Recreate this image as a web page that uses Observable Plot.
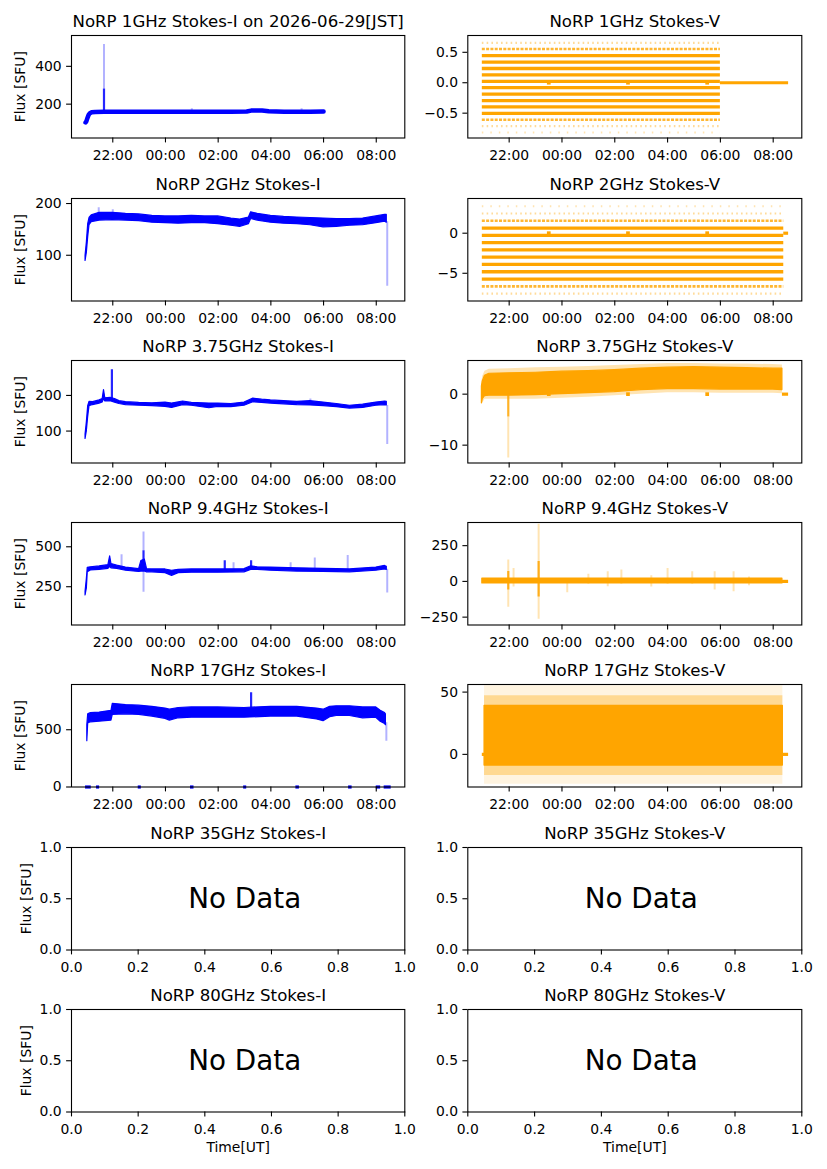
<!DOCTYPE html>
<html><head><meta charset="utf-8">
<script src="https://cdn.jsdelivr.net/npm/d3@7"></script>
<script src="https://cdn.jsdelivr.net/npm/@observablehq/plot@0.6"></script>
<style>
html,body{margin:0;padding:0;background:#fff;}
#root{position:relative;width:827px;height:1169px;overflow:hidden;background:#fff;}
</style></head>
<body><div id="root"></div>
<script>
// ---------------- data ----------------
const timeTicks = ["22:00", "00:00", "02:00", "04:00", "06:00", "08:00"];
const xStart = "20:26", xEnd = "09:05";
const unitXTicks = [0, 0.2, 0.4, 0.6, 0.8, 1.0];
const unitYTicks = [0, 0.5, 1.0];

// 1 GHz Stokes-I
const i1Times = ["20:58","21:00","21:02","21:05","21:08","21:12","21:20","21:40","22:30","23:30","00:30","01:30","02:30","03:05","03:15","03:40","03:55","04:30","05:30","06:00"];
const i1Flux  = [103,110,125,143,152,157,159,160,160,160,160,160,160,161,166,166,162,160,160,161];
const i1SpikeCore  = [["21:40", 160, 280]];
const i1SpikeFaint = [["21:40", 280, 515], ["01:00", 160, 176], ["05:10", 160, 176]];

// 1 GHz Stokes-V (quantised levels)
const v1Levels  = [0.654, 0.555, 0.445, 0.339, 0.234, 0.129, 0.023, -0.082, -0.187, -0.293, -0.398, -0.503, -0.608, -0.714, -0.819];
const v1Density = ["sparse","dotted","solid","solid","solid","solid","solid","solid","solid","solid","solid","solid","dotted","sparse","rare"];
const v1Span = ["20:59", "06:00"];
const v1ZeroSpans = [["06:00", "08:35"]];
const v1ZeroMarks = ["23:30", "02:30", "05:30"];

// 2 GHz Stokes-I
const i2Times = ["20:58","21:01","21:04","21:07","21:12","21:30","22:00","22:30","23:00","23:30","00:00","00:30","01:00","01:30","02:00","02:30","02:50","03:10","03:15","03:30","04:00","04:30","05:00","05:30","06:00","06:30","07:00","07:30","08:00","08:20","08:24"];
const i2Lo = [89,105,135,158,164,167,168,167,166,163,162,161,162,162,160,157,155,160,170,167,163,161,160,158,154,155,157,158,162,165,163];
const i2Hi = [99,125,160,172,177,182,182,180,179,176,175,175,176,175,175,171,169,173,183,180,176,174,173,172,171,170,170,171,175,178,178];
const i2SpikeCore  = [];
const i2SpikeFaint = [["08:25", 40, 165], ["21:28", 180, 192], ["22:00", 180, 188]];

// 2 GHz Stokes-V (quantised levels)
const v2Levels  = [3.37, 2.46, 1.55, 0.64, -0.27, -1.18, -2.09, -2.99, -3.90, -4.81, -5.72, -6.63, -7.54];
const v2Density = ["rare","sparse","dotted","solid","solid","solid","solid","solid","solid","solid","solid","dotted","sparse"];
const v2Span = ["20:59", "08:24"];
const v2ZeroSpans = [["08:24", "08:35"]];
const v2ZeroMarks = ["23:30", "02:30", "05:30"];

// 3.75 GHz Stokes-I
const i3Times = ["20:58","21:01","21:04","21:07","21:15","21:30","21:37","21:40","21:43","21:55","22:05","22:15","22:30","23:00","23:30","00:00","00:15","00:40","01:00","01:40","02:00","02:30","03:00","03:20","03:40","04:00","04:30","05:00","05:30","06:00","06:30","07:00","07:30","08:00","08:20","08:24"];
const i3Lo = [78,100,140,170,173,177,180,190,183,184,180,176,173,171,170,168,165,173,171,164,168,167,171,181,179,177,175,173,172,170,167,163,165,171,173,172];
const i3Hi = [90,125,170,182,181,186,190,215,192,193,190,184,181,179,178,180,177,183,179,177,177,176,180,191,188,186,184,182,184,180,176,171,174,180,183,182];
const i3SpikeCore  = [["21:58", 185, 272]];
const i3SpikeFaint = [["08:25", 62, 172], ["05:30", 180, 190]];

// 3.75 GHz Stokes-V
const v3Times   = ["20:58","21:00","21:05","21:15","22:00","23:00","00:00","01:00","02:00","03:00","04:00","05:00","06:00","07:00","08:00","08:21"];
const v3Lo      = [-1.8,-1.0,-0.4,-0.3,-0.3,-0.2,0.0,0.2,0.4,0.8,1.0,1.0,0.9,0.9,0.9,0.8];
const v3Hi      = [1.5,2.5,3.6,4.0,4.1,4.2,4.4,4.5,4.7,5.0,5.2,5.3,5.2,5.1,5.0,5.0];
const v3OuterLo = [-2.0,-1.8,-1.0,-1.0,-1.0,-1.0,-0.8,-0.6,-0.3,0.0,0.3,0.3,0.2,0.2,0.2,0.1];
const v3OuterHi = [2.5,3.5,4.5,4.9,5.0,5.2,5.3,5.4,5.6,5.8,6.0,6.0,5.9,5.9,5.8,5.7];
const v3SpikeCore  = [["21:58", -4.5, 0]];
const v3SpikeFaint = [["21:58", -12.5, -4.5]];
const v3ZeroSpans = [["08:21", "08:35"]];
const v3ZeroMarks = ["23:30", "02:30", "05:30"];

// 9.4 GHz Stokes-I
const i4Times = ["20:58","21:01","21:03","21:10","21:30","21:50","21:54","21:57","22:10","22:30","23:00","23:05","23:13","23:18","23:30","00:00","00:15","00:30","01:00","02:00","03:00","03:15","03:30","04:00","05:00","06:00","07:00","08:00","08:20","08:24"];
const i4Lo = [195,240,340,352,356,362,375,365,362,350,342,345,345,340,340,335,318,335,338,338,340,355,355,350,345,343,340,350,358,355];
const i4Hi = [218,300,368,372,377,385,440,392,382,370,360,410,420,360,358,358,350,356,358,358,360,378,372,370,365,362,358,370,380,375];
const i4SpikeCore  = [["23:10", 345, 475], ["02:15", 350, 412], ["03:15", 370, 412]];
const i4SpikeFaint = [["23:10", 215, 345], ["23:10", 475, 592], ["08:25", 210, 360], ["22:20", 370, 450], ["05:40", 360, 430], ["06:55", 355, 445], ["04:45", 360, 400], ["02:35", 355, 400]];

// 9.4 GHz Stokes-V
const v4Times = ["20:59", "08:21"];
const v4Lo = [-14, -14];
const v4Hi = [20, 20];
const v4SpikeCore  = [["21:58", -60, 70], ["23:07", -110, 140]];
const v4SpikeFaint = [["21:58",-180,150],["23:07",-265,400],["22:10",-40,90],["00:12",-80,20],["01:00",-20,50],["01:44",-37,67],["02:15",-20,79],["03:23",-40,40],["04:00",-20,91],["04:56",-20,67],["05:47",-60,67],["06:30",-72,67],["07:05",-30,30]];
const v4ZeroSpans = [["08:21", "08:35"]];

// 17 GHz Stokes-I
const i5Times = ["21:02","21:04","21:10","21:30","21:57","22:00","22:30","23:00","23:30","00:00","00:10","00:30","01:00","02:00","03:00","04:00","05:00","05:45","06:00","06:15","06:30","07:00","07:30","08:00","08:10","08:20","08:22"];
const i5Lo = [400,555,565,570,580,630,635,630,615,595,580,600,605,605,605,615,615,590,575,610,620,620,600,605,570,550,540];
const i5Hi = [540,635,645,650,665,727,715,710,700,685,675,690,695,695,690,700,700,685,675,700,705,705,695,695,665,645,635];
const i5SpikeCore  = [["03:15", 680, 823]];
const i5SpikeFaint = [["08:23", 400, 560]];
const i5ZeroSpans = [["20:58","21:11"],["21:23","21:30"],["22:58","23:05"],["00:57","01:05"],["02:58","03:05"],["04:57","05:05"],["06:57","07:05"],["08:00","08:10"],["08:18","08:34"]];

// 17 GHz Stokes-V
const v5Times = ["21:04", "08:22"];
const v5Lo = [-9, -9], v5Hi = [39, 39];
const v5OuterLo = [-17, -17], v5OuterHi = [47, 47];
const v5FarLo = [-24, -24], v5FarHi = [55, 55];
const v5ZeroSpans = [["20:59", "21:04"], ["08:22", "08:35"]];

// ---------------- helpers ----------------
const blue = "#0000ff", orange = "#ffa500";
function T(s) { const [h, m] = s.split(":").map(Number); return new Date(Date.UTC(2026, 5, h >= 12 ? 28 : 29, h, m)); }
const rowsBand = (times, lo, hi) => times.map((t, k) => ({t: T(t), lo: lo[k], hi: hi[k]}));
const rowsLine = (times, v) => times.map((t, k) => ({t: T(t), v: v[k]}));
const rowsSpike = list => list.map(([t, lo, hi]) => ({t: T(t), lo, hi}));
const rowsSpan = list => list.map(([a, b]) => ({t1: T(a), t2: T(b)}));
const rowsMark = list => list.map(t => ({t: T(t)}));
const rowsLevels = (levels, density, span) => levels.map((v, k) => ({v, kind: density[k], t1: T(span[0]), t2: T(span[1])}));

const levelStyle = {
  solid:  {strokeWidth: 3.3},
  dotted: {strokeWidth: 2.6, strokeDasharray: "3,1.3", strokeOpacity: 0.8},
  sparse: {strokeWidth: 2.2, strokeDasharray: "1.6,3.2", strokeOpacity: 0.4},
  rare:   {strokeWidth: 2.0, strokeDasharray: "1.5,7", strokeOpacity: 0.3}
};

function levelMarks(levels, density, span) {
  const rows = rowsLevels(levels, density, span);
  return Object.keys(levelStyle).map(k =>
    Plot.ruleY(rows.filter(d => d.kind === k), {y: "v", x1: "t1", x2: "t2", stroke: orange, clip: true, ...levelStyle[k]}));
}
function spikeMarks(core, faint, color) {
  return [
    Plot.ruleX(rowsSpike(faint), {x: "t", y1: "lo", y2: "hi", stroke: color, strokeWidth: 2, strokeOpacity: 0.3, clip: true}),
    Plot.ruleX(rowsSpike(core), {x: "t", y1: "lo", y2: "hi", stroke: color, strokeWidth: 2.2, strokeOpacity: 0.85, clip: true})
  ];
}
function zeroMarks(spans, marks, color) {
  const out = [Plot.ruleY(rowsSpan(spans), {y: 0, x1: "t1", x2: "t2", stroke: color, strokeWidth: 3.2})];
  if (marks) out.push(Plot.dot(rowsMark(marks), {x: "t", y: 0, symbol: "square", r: 2.1, fill: color}));
  return out;
}

const frameTops = [35, 197.6, 359.8, 522.2, 684.4, 846.7, 1008.5];
const frameH = 102.5;
const root = document.getElementById("root");
const timeX = {type: "utc", domain: [T(xStart), T(xEnd)]};
const timeFmt = d3.utcFormat("%H:%M");

function panel({col, row, title, x, y, xTicks, xFmt, yTicks, yFmt, marks, ylabelDx = -50.5, xlabel = false}) {
  const svgLeft = col === 0 ? 0 : 413, W = 414;
  const fx0 = col === 0 ? 71 : 467.3, fx1 = col === 0 ? 404.3 : 801.3;
  const mT = 35, mB = xlabel ? 55 : 30;
  const extra = [
    Plot.frame({stroke: "black", strokeWidth: 1.1}),
    Plot.axisX({ticks: xTicks, tickFormat: xFmt, tickSize: 4.9, tickPadding: 7.2, label: null, strokeWidth: 1.1}),
    Plot.axisY({ticks: yTicks, tickFormat: yFmt, tickSize: 4.9, tickPadding: 4.9, label: null, strokeWidth: 1.1}),
    Plot.text([title], {text: d => d, frameAnchor: "top", textAnchor: "middle", lineAnchor: "middle", dy: -13.6, fontSize: 16.6, fill: "black"})
  ];
  if (col === 0) extra.push(Plot.text(["Flux [SFU]"], {text: d => d, frameAnchor: "left", textAnchor: "middle", lineAnchor: "middle", rotate: -90, dx: ylabelDx, fontSize: 13.9, fill: "black"}));
  if (xlabel) extra.push(Plot.text(["Time[UT]"], {text: d => d, frameAnchor: "bottom", textAnchor: "middle", lineAnchor: "middle", dy: 35.6, fontSize: 13.9, fill: "black"}));
  const svg = Plot.plot({
    width: W, height: mT + frameH + mB,
    marginLeft: fx0 - svgLeft, marginRight: svgLeft + W - fx1,
    marginTop: mT, marginBottom: mB,
    x, y,
    style: {fontFamily: "DejaVu Sans, sans-serif", fontSize: "13.9px", color: "black", background: "transparent", overflow: "visible"},
    marks: [...marks, ...extra]
  });
  svg.style.position = "absolute";
  svg.style.left = svgLeft + "px";
  svg.style.top = (frameTops[row] - mT) + "px";
  svg.style.maxWidth = "none";
  root.append(svg);
}

const fmtInt = d3.format("d");
const fmt1 = d3.format(".1f");
const tTicks = timeTicks.map(T);

function bandArea(rows, color, opacity = 1, stroke = true) {
  return Plot.areaY(rows, {x: "t", y1: "lo", y2: "hi", fill: color, fillOpacity: opacity,
    stroke: stroke ? color : "none", strokeWidth: 1.2, clip: true});
}

// Row 1 : 1 GHz
panel({col: 0, row: 0, title: "NoRP 1GHz Stokes-I on 2026-06-29[JST]", x: timeX, y: {domain: [21, 563]},
  xTicks: tTicks, xFmt: timeFmt, yTicks: [200, 400], yFmt: fmtInt,
  marks: [
    ...spikeMarks(i1SpikeCore, i1SpikeFaint, blue),
    Plot.lineY(rowsLine(i1Times, i1Flux), {x: "t", y: "v", stroke: blue, strokeWidth: 4.5, clip: true})
  ]});
panel({col: 1, row: 0, title: "NoRP 1GHz Stokes-V", x: timeX, y: {domain: [-0.908, 0.776]},
  xTicks: tTicks, xFmt: timeFmt, yTicks: [-0.5, 0, 0.5], yFmt: fmt1,
  marks: [...levelMarks(v1Levels, v1Density, v1Span), ...zeroMarks(v1ZeroSpans, v1ZeroMarks, orange)]});

// Row 2 : 2 GHz
panel({col: 0, row: 1, title: "NoRP 2GHz Stokes-I", x: timeX, y: {domain: [11.6, 209.7]},
  xTicks: tTicks, xFmt: timeFmt, yTicks: [100, 200], yFmt: fmtInt,
  marks: [...spikeMarks(i2SpikeCore, i2SpikeFaint, blue), bandArea(rowsBand(i2Times, i2Lo, i2Hi), blue)]});
panel({col: 1, row: 1, title: "NoRP 2GHz Stokes-V", x: timeX, y: {domain: [-8.46, 4.33]},
  xTicks: tTicks, xFmt: timeFmt, yTicks: [-5, 0], yFmt: fmtInt,
  marks: [...levelMarks(v2Levels, v2Density, v2Span), ...zeroMarks(v2ZeroSpans, v2ZeroMarks, orange)]});

// Row 3 : 3.75 GHz
panel({col: 0, row: 2, title: "NoRP 3.75GHz Stokes-I", x: timeX, y: {domain: [10.4, 298]},
  xTicks: tTicks, xFmt: timeFmt, yTicks: [100, 200], yFmt: fmtInt,
  marks: [...spikeMarks(i3SpikeCore, i3SpikeFaint, blue), bandArea(rowsBand(i3Times, i3Lo, i3Hi), blue)]});
panel({col: 1, row: 2, title: "NoRP 3.75GHz Stokes-V", x: timeX, y: {domain: [-13.5, 6.6]},
  xTicks: tTicks, xFmt: timeFmt, yTicks: [-10, 0], yFmt: fmtInt,
  marks: [
    bandArea(rowsBand(v3Times, v3OuterLo, v3OuterHi), orange, 0.3, false),
    bandArea(rowsBand(v3Times, v3Lo, v3Hi), orange),
    ...spikeMarks(v3SpikeCore, v3SpikeFaint, orange),
    ...zeroMarks(v3ZeroSpans, v3ZeroMarks, orange)
  ]});

// Row 4 : 9.4 GHz
panel({col: 0, row: 3, title: "NoRP 9.4GHz Stokes-I", x: timeX, y: {domain: [10.4, 652]},
  xTicks: tTicks, xFmt: timeFmt, yTicks: [250, 500], yFmt: fmtInt,
  marks: [...spikeMarks(i4SpikeCore, i4SpikeFaint, blue), bandArea(rowsBand(i4Times, i4Lo, i4Hi), blue)]});
panel({col: 1, row: 3, title: "NoRP 9.4GHz Stokes-V", x: timeX, y: {domain: [-305, 412]},
  xTicks: tTicks, xFmt: timeFmt, yTicks: [-250, 0, 250], yFmt: fmtInt,
  marks: [
    ...spikeMarks(v4SpikeCore, v4SpikeFaint, orange),
    bandArea(rowsBand(v4Times, v4Lo, v4Hi), orange),
    ...zeroMarks(v4ZeroSpans, null, orange)
  ]});

// Row 5 : 17 GHz
panel({col: 0, row: 4, title: "NoRP 17GHz Stokes-I", x: timeX, y: {domain: [0, 895]},
  xTicks: tTicks, xFmt: timeFmt, yTicks: [0, 500], yFmt: fmtInt,
  marks: [
    ...spikeMarks(i5SpikeCore, i5SpikeFaint, blue),
    bandArea(rowsBand(i5Times, i5Lo, i5Hi), blue),
    ...zeroMarks(i5ZeroSpans, null, blue)
  ]});
panel({col: 1, row: 4, title: "NoRP 17GHz Stokes-V", x: timeX, y: {domain: [-26.2, 56.1]},
  xTicks: tTicks, xFmt: timeFmt, yTicks: [0, 50], yFmt: fmtInt,
  marks: [
    bandArea(rowsBand(v5Times, v5FarLo, v5FarHi), orange, 0.12, false),
    bandArea(rowsBand(v5Times, v5OuterLo, v5OuterHi), orange, 0.35, false),
    bandArea(rowsBand(v5Times, v5Lo, v5Hi), orange),
    ...zeroMarks(v5ZeroSpans, null, orange)
  ]});

// Rows 6-7 : no data
const noData = [Plot.text(["No Data"], {text: d => d, x: 0.35, y: 0.5, textAnchor: "start", lineAnchor: "middle", fontSize: 27.8, fill: "black"})];
[["35GHz", 5], ["80GHz", 6]].forEach(([band, row]) => {
  ["I", "V"].forEach((pol, col) => {
    panel({col, row, title: `NoRP ${band} Stokes-${pol}`, x: {domain: [0, 1]}, y: {domain: [0, 1]},
      xTicks: unitXTicks, xFmt: fmt1, yTicks: unitYTicks, yFmt: fmt1,
      marks: noData, ylabelDx: -45, xlabel: row === 6});
  });
});
</script>
</body></html>
